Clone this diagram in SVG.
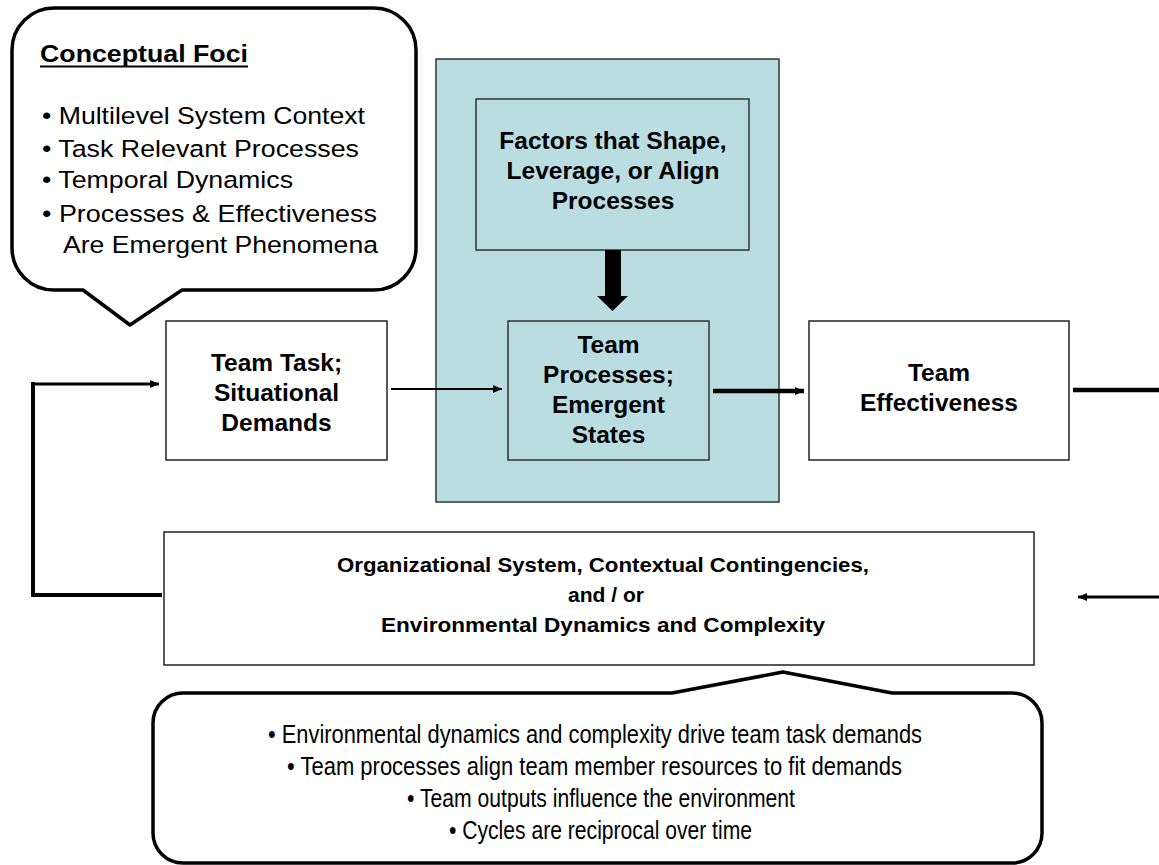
<svg xmlns="http://www.w3.org/2000/svg" width="1159" height="865" viewBox="0 0 1159 865">
<style>
.box{fill:#fff;stroke:#222;stroke-width:1.5}
.teal{fill:#B9DDE1;stroke:#333;stroke-width:1.5}
.call{fill:#fff;stroke:#000;stroke-width:3.5;stroke-linejoin:round}
.b{font-family:"Liberation Sans",Arial,sans-serif;font-weight:bold;font-size:24.5px;fill:#000;text-anchor:middle}
.ob{font-family:"Liberation Sans",Arial,sans-serif;font-weight:bold;font-size:21px;fill:#000;text-anchor:middle}
.r{font-family:"Liberation Sans",Arial,sans-serif;font-size:24.5px;fill:#000}
.n{font-family:"Liberation Sans",Arial,sans-serif;font-size:25.5px;fill:#000;text-anchor:middle}
.ln{fill:none;stroke:#000}
</style>
<defs>
<marker id="arr" markerUnits="userSpaceOnUse" markerWidth="10" markerHeight="10" refX="9" refY="5" orient="auto">
<path d="M0,1 L9,5 L0,9 Z" fill="#000"/>
</marker>
</defs>

<g id="callout-foci">
<path class="call" d="M54 8 H374 A42 42 0 0 1 416 50 V248 A42 42 0 0 1 374 290 H182 L130 325 L83 290 H54 A42 42 0 0 1 12 248 V50 A42 42 0 0 1 54 8 Z"/>
<text class="r" x="40" y="62" font-weight="bold" textLength="208" lengthAdjust="spacingAndGlyphs">Conceptual Foci</text>
<line x1="40" y1="66.5" x2="248" y2="66.5" stroke="#000" stroke-width="2"/>
<text class="r" x="42" y="124" textLength="323" lengthAdjust="spacingAndGlyphs">• Multilevel System Context</text>
<text class="r" x="42" y="157" textLength="317" lengthAdjust="spacingAndGlyphs">• Task Relevant Processes</text>
<text class="r" x="42" y="188" textLength="251" lengthAdjust="spacingAndGlyphs">• Temporal Dynamics</text>
<text class="r" x="42" y="222" textLength="335" lengthAdjust="spacingAndGlyphs">• Processes &amp; Effectiveness</text>
<text class="r" x="63" y="253" textLength="315" lengthAdjust="spacingAndGlyphs">Are Emergent Phenomena</text>
</g>

<g id="container">
<rect class="teal" x="436" y="59" width="343" height="443"/>
</g>

<g id="team-task">
<rect class="box" x="166" y="321" width="221" height="139"/>
<text class="b" x="276.5" y="371">Team Task;</text>
<text class="b" x="276.5" y="401">Situational</text>
<text class="b" x="276.5" y="431">Demands</text>
</g>

<g id="factors">
<rect class="teal" x="476" y="99" width="273" height="151"/>
<text class="b" x="613" y="149">Factors that Shape,</text>
<text class="b" x="613" y="179">Leverage, or Align</text>
<text class="b" x="613" y="209">Processes</text>
</g>

<g id="team-processes">
<rect class="teal" x="508" y="321" width="201" height="139"/>
<text class="b" x="608.5" y="353">Team</text>
<text class="b" x="608.5" y="383">Processes;</text>
<text class="b" x="608.5" y="413">Emergent</text>
<text class="b" x="608.5" y="443">States</text>
</g>

<g id="team-effectiveness">
<rect class="box" x="809" y="321" width="260" height="139"/>
<text class="b" x="939" y="381">Team</text>
<text class="b" x="939" y="411">Effectiveness</text>
</g>

<g id="org-system">
<rect class="box" x="164" y="532" width="870" height="133"/>
<text class="ob" x="603" y="572" textLength="532" lengthAdjust="spacingAndGlyphs">Organizational System, Contextual Contingencies,</text>
<text class="ob" x="606" y="602" textLength="76" lengthAdjust="spacingAndGlyphs">and / or</text>
<text class="ob" x="603" y="632" textLength="444" lengthAdjust="spacingAndGlyphs">Environmental Dynamics and Complexity</text>
</g>

<g id="callout-cycles">
<path class="call" stroke-width="3" d="M183 693 H672 L783 672 L892 693 H1012 A30 30 0 0 1 1042 723 V833 A30 30 0 0 1 1012 863 H183 A30 30 0 0 1 153 833 V723 A30 30 0 0 1 183 693 Z"/>
<text class="n" x="595" y="743" textLength="654" lengthAdjust="spacingAndGlyphs">• Environmental dynamics and complexity drive team task demands</text>
<text class="n" x="594.5" y="775" textLength="615" lengthAdjust="spacingAndGlyphs">• Team processes align team member resources to fit demands</text>
<text class="n" x="601" y="807" textLength="388" lengthAdjust="spacingAndGlyphs">• Team outputs influence the environment</text>
<text class="n" x="600.5" y="839" textLength="303" lengthAdjust="spacingAndGlyphs">• Cycles are reciprocal over time</text>
</g>

<g id="connectors">
<polygon points="605,250 621,250 621,296 628,296 612.5,311 597,296 605,296" fill="#000"/>
<line class="ln" x1="391" y1="389" x2="502" y2="389" stroke-width="2.2" marker-end="url(#arr)"/>
<line class="ln" x1="713" y1="391" x2="804" y2="391" stroke-width="4.5" marker-end="url(#arr)"/>
<line class="ln" x1="1073" y1="390" x2="1159" y2="390" stroke-width="4.5"/>
<line class="ln" x1="1159" y1="597" x2="1078" y2="597" stroke-width="3" marker-end="url(#arr)"/>
<polyline class="ln" points="162,595 33,595 33,382" stroke-width="4"/>
<line class="ln" x1="31" y1="384" x2="159" y2="384" stroke-width="3" marker-end="url(#arr)"/>
</g>
</svg>
